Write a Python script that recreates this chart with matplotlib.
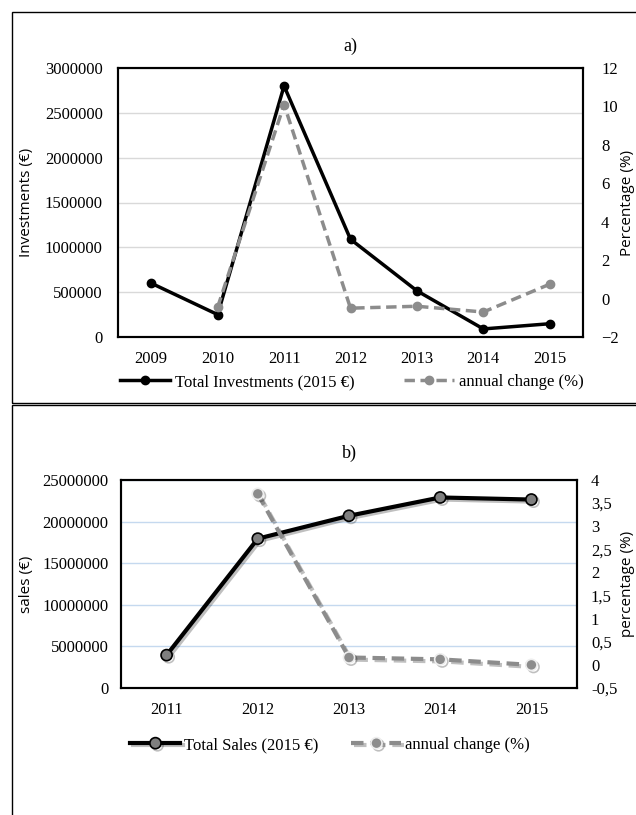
import matplotlib.pyplot as plt
import matplotlib.patheffects as pe
from matplotlib.patches import Rectangle
from matplotlib.ticker import FuncFormatter

# panel a) data
years_a = ["2009", "2010", "2011", "2012", "2013", "2014", "2015"]
investments = [600000, 250000, 2800000, 1090000, 515000, 90000, 148000]
inv_change = [None, -0.45, 10.1, -0.5, -0.4, -0.7, 0.75]

# panel b) data
years_b = ["2011", "2012", "2013", "2014", "2015"]
sales = [3950000, 17950000, 20700000, 22900000, 22650000]
sales_change = [None, 3.7, 0.16, 0.12, 0.0]

serif = "Liberation Serif"
sans = "Open Sans"
gray = "#8c8c8c"

fig = plt.figure(figsize=(6.36, 8.15), dpi=100)
W, H = 636, 815

# outer boxes
fig.patches.append(Rectangle((12 / W, 1 - 403 / H), 1, (403 - 12) / H,
                             transform=fig.transFigure, fill=False, ec="black", lw=1))
fig.patches.append(Rectangle((12 / W, -0.01), 1, (1 - 405 / H) + 0.01,
                             transform=fig.transFigure, fill=False, ec="black", lw=1))


def fmt_int(v, pos):
    return "%d" % v


def fmt_comma(v, pos):
    return ("%g" % v).replace(".", ",")


def style(a, lpad):
    a.tick_params(length=0, labelsize=12)
    a.tick_params(axis="x", pad=10)
    a.tick_params(axis="y", pad=lpad)
    for lab in a.get_xticklabels() + a.get_yticklabels():
        lab.set_fontfamily(serif)
    for s in a.spines.values():
        s.set_linewidth(1.5)


# ---------- a) ----------
ax = fig.add_axes([118 / W, 1 - 337 / H, 465 / W, (337 - 68) / H])
xa = list(range(len(years_a)))
l1, = ax.plot(xa, investments, color="black", lw=2.5, marker="o", ms=6,
              label="Total Investments (2015 €)", zorder=3)
ax.set_ylim(0, 3000000)
ax.set_yticks(range(0, 3000001, 500000))
ax.yaxis.set_major_formatter(FuncFormatter(fmt_int))
ax.set_xlim(-0.5, len(years_a) - 0.5)
ax.set_xticks(xa)
ax.set_xticklabels(years_a)
ax.grid(axis="y", color="#d9d9d9", lw=1)
ax.set_axisbelow(True)
ax.set_ylabel("Investments (€)", fontfamily=sans, fontsize=11)
ax.yaxis.set_label_coords((34 - 118) / 465, 0.5)
ax.set_title("a)", fontfamily=serif, fontsize=13, pad=12)

ax2 = ax.twinx()
xs = [x for x, v in zip(xa, inv_change) if v is not None]
vs = [v for v in inv_change if v is not None]
l2, = ax2.plot(xs, vs, color=gray, lw=2.5, ls=(0, (3, 1.6)), marker="o", ms=6,
               label="annual change (%)", zorder=3)
ax2.set_ylim(-2, 12)
ax2.set_yticks(range(-2, 13, 2))
ax2.set_ylabel("Percentage (%)", fontfamily=sans, fontsize=11)
ax2.yaxis.set_label_coords((620 - 118) / 465, 0.5)

style(ax, 11)
style(ax2, 13)

fig.legend([l1, l2], [l1.get_label(), l2.get_label()], loc="center",
           bbox_to_anchor=(352 / W, 1 - 382 / H), ncol=2, frameon=False,
           prop={"family": serif, "size": 12}, handlelength=3, columnspacing=3,
           handletextpad=0.3)

# ---------- b) ----------
shadow = [pe.SimpleLineShadow(offset=(1.5, -1.5), alpha=0.25), pe.Normal()]
bx = fig.add_axes([121 / W, 1 - 688 / H, 456 / W, (688 - 480) / H])
xb = list(range(len(years_b)))
m1, = bx.plot(xb, sales, color="black", lw=3, marker="o", ms=8, mfc="#7f7f7f",
              mec="black", mew=1.2, label="Total Sales (2015 €)", zorder=3,
              path_effects=shadow)
bx.set_ylim(0, 25000000)
bx.set_yticks(range(0, 25000001, 5000000))
bx.yaxis.set_major_formatter(FuncFormatter(fmt_int))
bx.set_xlim(-0.5, len(years_b) - 0.5)
bx.set_xticks(xb)
bx.set_xticklabels(years_b)
bx.grid(axis="y", color="#c5d9ef", lw=1)
bx.set_axisbelow(True)
bx.set_ylabel("sales (€)", fontfamily=sans, fontsize=11)
bx.yaxis.set_label_coords((34 - 121) / 456, 0.5)
bx.set_title("b)", fontfamily=serif, fontsize=13, pad=16)

bx2 = bx.twinx()
xs = [x for x, v in zip(xb, sales_change) if v is not None]
vs = [v for v in sales_change if v is not None]
m2, = bx2.plot(xs, vs, color=gray, lw=3, ls=(0, (3, 1.6)), marker="o", ms=8,
               mfc="#8c8c8c", mec="#eeeeee", mew=1.2, label="annual change (%)",
               zorder=3, path_effects=shadow)
bx2.set_ylim(-0.5, 4)
bx2.set_yticks([-0.5, 0, 0.5, 1, 1.5, 2, 2.5, 3, 3.5, 4])
bx2.yaxis.set_major_formatter(FuncFormatter(fmt_comma))
bx2.set_ylabel("percentage (%)", fontfamily=sans, fontsize=11)
bx2.yaxis.set_label_coords((620 - 121) / 456, 0.5)

style(bx, 9)
style(bx2, 10)

fig.legend([m1, m2], [m1.get_label(), m2.get_label()], loc="center",
           bbox_to_anchor=(330 / W, 1 - 745 / H), ncol=2, frameon=False,
           prop={"family": serif, "size": 12}, handlelength=3, columnspacing=2,
           handletextpad=0.2)

fig.savefig("out.png", dpi=100)
